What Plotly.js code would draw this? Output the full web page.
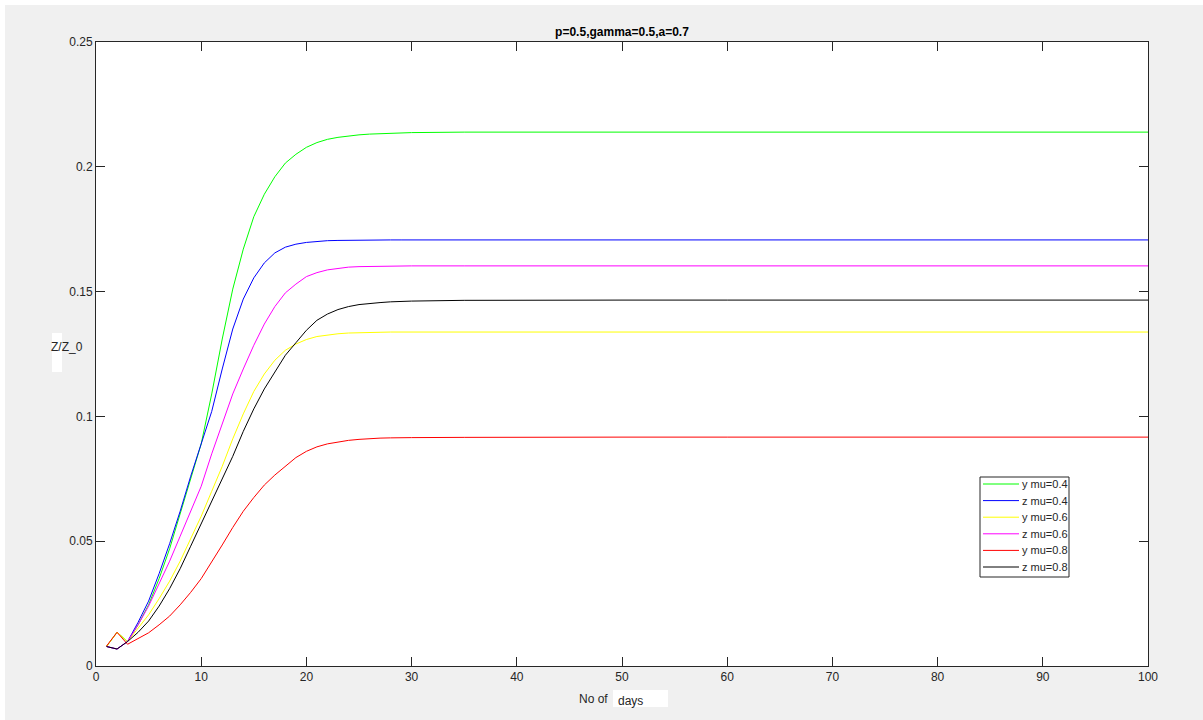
<!DOCTYPE html>
<html>
<head>
<meta charset="utf-8">
<script src="https://cdn.plot.ly/plotly-3.0.1.min.js"></script>
<style>html,body{margin:0;padding:0;background:#ffffff;}#chart{width:1203px;height:720px;}</style>
</head>
<body>
<div id="chart"></div>
<script>
// Days (x values)
const days = [1,2,3,4,5,6,7,8,9,10,11,12,13,14,15,16,17,18,19,20,21,22,23,24,25,26,27,28,29,30,35,40,50,60,70,80,90,100];

// y mu=0.4 (green)
const yMu04 = [0.0078,0.0135,0.0098,0.0165,0.0245,0.035,0.047,0.061,0.075,0.089,0.109,0.131,0.151,0.167,0.180,0.189,0.196,0.2015,0.205,0.2078,0.2097,0.211,0.2118,0.2124,0.2128,0.2131,0.2133,0.2135,0.2136,0.2137,0.2139,0.2139,0.2139,0.2139,0.2139,0.2139,0.2139,0.2139];
// z mu=0.4 (blue)
const zMu04 = [0.0078,0.0068,0.0098,0.0175,0.026,0.037,0.049,0.062,0.076,0.089,0.102,0.119,0.135,0.147,0.1555,0.1615,0.1655,0.1678,0.1690,0.1697,0.1701,0.1704,0.1705,0.1706,0.1707,0.1707,0.1707,0.1707,0.1707,0.1707,0.1707,0.1707,0.1707,0.1707,0.1707,0.1707,0.1707,0.1707];
// y mu=0.6 (yellow)
const yMu06 = [0.0078,0.0135,0.0098,0.015,0.0205,0.027,0.034,0.042,0.051,0.060,0.070,0.080,0.091,0.101,0.110,0.117,0.1225,0.1265,0.129,0.1308,0.1320,0.1327,0.1331,0.1334,0.1336,0.1337,0.1337,0.1338,0.1338,0.1338,0.1338,0.1338,0.1338,0.1338,0.1338,0.1338,0.1338,0.1338];
// z mu=0.6 (magenta)
const zMu06 = [0.0078,0.0068,0.0098,0.0165,0.024,0.033,0.042,0.052,0.062,0.072,0.085,0.097,0.109,0.119,0.1285,0.137,0.144,0.1495,0.153,0.156,0.1576,0.1587,0.1594,0.1598,0.1600,0.1601,0.1602,0.1602,0.1603,0.1603,0.1603,0.1603,0.1603,0.1603,0.1603,0.1603,0.1603,0.1603];
// y mu=0.8 (red)
const yMu08 = [0.0080,0.0135,0.0087,0.011,0.0133,0.0165,0.020,0.0245,0.0295,0.035,0.0415,0.0485,0.0555,0.062,0.0675,0.0725,0.0765,0.080,0.0835,0.086,0.0878,0.0890,0.0898,0.0904,0.0908,0.0911,0.0913,0.0914,0.0915,0.0915,0.0916,0.0917,0.0917,0.0917,0.0917,0.0917,0.0917,0.0917];
// z mu=0.8 (black)
const zMu08 = [0.0078,0.0068,0.0098,0.0135,0.018,0.024,0.031,0.039,0.048,0.057,0.066,0.075,0.084,0.094,0.103,0.111,0.118,0.1245,0.1295,0.1345,0.1385,0.141,0.1428,0.1440,0.1448,0.1453,0.1456,0.1459,0.1461,0.1462,0.1465,0.1466,0.1466,0.1466,0.1466,0.1466,0.1466,0.1466];

const seriesNames = ['y mu=0.4','z mu=0.4','y mu=0.6','z mu=0.6','y mu=0.8','z mu=0.8'];
const seriesValues = [yMu04, zMu04, yMu06, zMu06, yMu08, zMu08];
const seriesColors = ['#00ff00','#0000ff','#ffff00','#ff00ff','#ff0000','#000000'];

const xTicks = [0,10,20,30,40,50,60,70,80,90,100];
const yTicks = [0,0.05,0.1,0.15,0.2,0.25];
const yTickText = ['0','0.05','0.1','0.15','0.2','0.25'];

const traces = seriesNames.map((n,i)=>({
  x: days, y: seriesValues[i], name: n, type: 'scatter', mode: 'lines',
  line: {color: seriesColors[i], width: 1}
}));

// pixel -> paper helpers for the plot box (l=96, r=1148, t=42, b=666)
const PL = 96, PR = 1148, PT = 42, PB = 666;
const px = p => (p - PL) / (PR - PL);
const py = p => (PB - p) / (PB - PT);

const fontFam = 'Liberation Sans, Arial, sans-serif';
const axisCommon = {
  showline: true, linecolor: '#262626', linewidth: 1, mirror: 'ticks',
  ticks: 'inside', ticklen: 9, tickcolor: '#262626', tickwidth: 1,
  showgrid: false, zeroline: false,
  tickfont: {family: fontFam, size: 12, color: '#262626'}
};

// Manual legend (MATLAB-style compact box)
const legBox = {x0: 980, x1: 1069, y0: 477, y1: 577};
const legRowY0 = 484, legRowStep = 16.6;
const shapes = [
  // white image edges
  {type: 'rect', xref: 'paper', yref: 'paper', x0: px(0), x1: px(1203), y0: py(0), y1: py(5), fillcolor: '#ffffff', line: {width: 0}, layer: 'above'},
  {type: 'rect', xref: 'paper', yref: 'paper', x0: px(0), x1: px(5), y0: py(0), y1: py(720), fillcolor: '#ffffff', line: {width: 0}, layer: 'above'},
  // white patches behind label pieces
  {type: 'rect', xref: 'paper', yref: 'paper', x0: px(52), x1: px(62), y0: py(372), y1: py(333), fillcolor: '#ffffff', line: {width: 0}, layer: 'above'},
  {type: 'rect', xref: 'paper', yref: 'paper', x0: px(613), x1: px(668), y0: py(707), y1: py(690), fillcolor: '#ffffff', line: {width: 0}, layer: 'above'},
  // legend box
  {type: 'rect', xref: 'paper', yref: 'paper', x0: px(legBox.x0), x1: px(legBox.x1), y0: py(legBox.y1), y1: py(legBox.y0),
   fillcolor: '#ffffff', line: {color: '#262626', width: 1}, layer: 'above'}
];
const annotations = [
  {text: 'Z/Z_0', xref: 'paper', yref: 'paper', x: px(67), y: py(347), showarrow: false,
   xanchor: 'center', yanchor: 'middle', font: {family: fontFam, size: 12, color: '#262626'}},
  {text: 'No of', xref: 'paper', yref: 'paper', x: px(610), y: py(699), showarrow: false,
   xanchor: 'right', yanchor: 'middle', font: {family: fontFam, size: 12, color: '#262626'}},
  {text: 'days', xref: 'paper', yref: 'paper', x: px(616), y: py(701), showarrow: false,
   xanchor: 'left', yanchor: 'middle', font: {family: fontFam, size: 12, color: '#262626'}}
];
seriesNames.forEach((n, i) => {
  const yy = legRowY0 + i * legRowStep;
  shapes.push({type: 'line', xref: 'paper', yref: 'paper', x0: px(983), x1: px(1019), y0: py(yy), y1: py(yy),
               line: {color: seriesColors[i], width: 1}, layer: 'above'});
  annotations.push({text: n, xref: 'paper', yref: 'paper', x: px(1020), y: py(yy), showarrow: false,
                    xanchor: 'left', yanchor: 'middle', font: {family: fontFam, size: 11, color: '#262626'}});
});

const layout = {
  width: 1203, height: 720,
  paper_bgcolor: '#f0f0f0', plot_bgcolor: '#ffffff',
  margin: {l: 96, r: 55, t: 42, b: 54},
  showlegend: false,
  title: {text: '<b>p=0.5,gamma=0.5,a=0.7</b>', font: {family: fontFam, size: 12, color: '#000000'},
          xref: 'paper', x: 0.5, xanchor: 'center', yref: 'container', y: 1 - 32/720, yanchor: 'middle'},
  xaxis: Object.assign({}, axisCommon, {range: [0,100], tickvals: xTicks, ticktext: xTicks.map(String)}),
  yaxis: Object.assign({}, axisCommon, {range: [0,0.25], tickvals: yTicks, ticktext: yTickText}),
  shapes: shapes,
  annotations: annotations
};

Plotly.newPlot('chart', traces, layout, {displayModeBar: false, staticPlot: true});
</script>
</body>
</html>
